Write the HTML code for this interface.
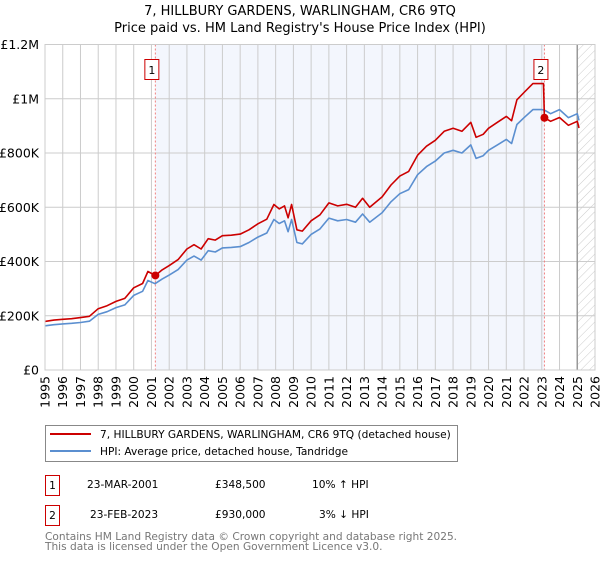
<!DOCTYPE html>
<html><head><meta charset="utf-8"><style>
body{margin:0;background:#fff;font-family:"DejaVu Sans","Liberation Sans",sans-serif;}
svg text{font-family:"DejaVu Sans","Liberation Sans",sans-serif;}
</style></head><body>
<svg id="c" width="600" height="560" xmlns="http://www.w3.org/2000/svg">
<defs><pattern id="hatch" width="6" height="6" patternUnits="userSpaceOnUse" patternTransform="rotate(45)"><line x1="0" y1="0" x2="0" y2="6" stroke="#ccc" stroke-width="1"/></pattern></defs>
<text x="300" y="15" text-anchor="middle" font-size="13" fill="#000">7, HILLBURY GARDENS, WARLINGHAM, CR6 9TQ</text>
<text x="300" y="32" text-anchor="middle" font-size="13" fill="#000">Price paid vs. HM Land Registry's House Price Index (HPI)</text>
<g id="plot"></g>
<g>
<rect x="45.5" y="425.5" width="412" height="36" fill="#fff" stroke="#888"/>
<line x1="50" y1="434" x2="91" y2="434" stroke="#cc0000" stroke-width="2"/>
<text x="100" y="438" font-size="10.6">7, HILLBURY GARDENS, WARLINGHAM, CR6 9TQ (detached house)</text>
<line x1="50" y1="451" x2="91" y2="451" stroke="#5b8fd0" stroke-width="2"/>
<text x="100" y="455" font-size="10.6">HPI: Average price, detached house, Tandridge</text>
</g>
<g font-size="10.6">
<rect x="45.5" y="475.5" width="14" height="20" fill="#fff" stroke="#cc0000"/><text x="52.5" y="489" text-anchor="middle">1</text>
<text x="87" y="488">23-MAR-2001</text><text x="215" y="488">£348,500</text><text x="312" y="488">10% ↑ HPI</text>
<rect x="45.5" y="505.5" width="14" height="20" fill="#fff" stroke="#cc0000"/><text x="52.5" y="519" text-anchor="middle">2</text>
<text x="90" y="518">23-FEB-2023</text><text x="215" y="518">£930,000</text><text x="319" y="518">3% ↓ HPI</text>
</g>
<text x="45" y="540" font-size="10.6" fill="#777">Contains HM Land Registry data © Crown copyright and database right 2025.</text>
<text x="45" y="550" font-size="10.6" fill="#777">This data is licensed under the Open Government Licence v3.0.</text>
</svg>
<script>
const hpiYears=[1995,1995.5,1996,1996.5,1997,1997.5,1998,1998.5,1999,1999.5,2000,2000.5,2000.8,2001.2,2001.6,2002,2002.5,2003,2003.4,2003.8,2004.2,2004.6,2005,2005.5,2006,2006.5,2007,2007.5,2007.9,2008.2,2008.5,2008.7,2008.9,2009.2,2009.5,2010,2010.5,2011,2011.5,2012,2012.5,2012.9,2013.3,2014,2014.5,2015,2015.5,2016,2016.5,2017,2017.5,2018,2018.5,2019,2019.3,2019.7,2020,2020.5,2021,2021.3,2021.6,2022,2022.5,2023,2023.15,2023.5,2024,2024.5,2025,2025.1];
const hpiValues=[163,167,170,172,175,180,205,215,230,240,275,290,330,318,335,350,370,405,420,405,440,435,450,452,455,470,490,505,555,540,550,510,555,470,465,500,520,560,550,555,545,575,545,580,620,650,665,720,750,770,800,810,800,830,780,790,810,830,850,835,905,930,960,960,958,945,960,930,945,920];
const propYears=[1995,1995.5,1996,1996.5,1997,1997.5,1998,1998.5,1999,1999.5,2000,2000.5,2000.8,2001.22,2001.6,2002,2002.5,2003,2003.4,2003.8,2004.2,2004.6,2005,2005.5,2006,2006.5,2007,2007.5,2007.9,2008.2,2008.5,2008.7,2008.9,2009.2,2009.5,2010,2010.5,2011,2011.5,2012,2012.5,2012.9,2013.3,2014,2014.5,2015,2015.5,2016,2016.5,2017,2017.5,2018,2018.5,2019,2019.3,2019.7,2020,2020.5,2021,2021.3,2021.6,2022,2022.5,2023,2023.1,2023.15,2023.5,2024,2024.5,2025,2025.1];
const propValues=[179,184,187,189,193,198,226,237,253,264,303,319,363,348.5,369,385,407,446,462,446,484,479,495,497,501,517,539,556,610,594,605,561,610,517,512,550,572,616,605,611,600,633,600,638,682,715,732,792,825,847,880,891,880,913,858,869,891,913,935,919,996,1023,1056,1056,1056,930,917,931,902,917,892];
const saleYears=[2001.22,2023.15];
const saleValues=[348.5,930];
const saleLabels=["1","2"];
const yTicks=[0,200,400,600,800,1000,1200];
const yTickLabels=["£0","£200K","£400K","£600K","£800K","£1M","£1.2M"];
const xTicks=[1995,1996,1997,1998,1999,2000,2001,2002,2003,2004,2005,2006,2007,2008,2009,2010,2011,2012,2013,2014,2015,2016,2017,2018,2019,2020,2021,2022,2023,2024,2025,2026];

const X0=45,X1=595,Y0=370,Y1=44.5;
const xs=v=>X0+(v-1995)/(2026-1995)*(X1-X0);
const ys=v=>Y0-v/1200*(Y0-Y1);
const NS="http://www.w3.org/2000/svg";
const g=document.getElementById('plot');
function mk(t,a){const e=document.createElementNS(NS,t);for(const k in a)e.setAttribute(k,a[k]);g.appendChild(e);return e;}

let bg=mk('rect',{x:X0,y:Y1,width:X1-X0,height:Y0-Y1,fill:'#fff'});


let sh=mk('rect',{x:xs(saleYears[0]),y:Y1,width:xs(saleYears[1])-xs(saleYears[0]),height:Y0-Y1,fill:'#f3f6fd'});


let ht=mk('rect',{x:xs(2025),y:Y1,width:X1-xs(2025),height:Y0-Y1,fill:'url(#hatch)'});


xTicks.forEach(t=>{
 const x=xs(t);
 let l=mk('line',{x1:x,y1:Y1,x2:x,y2:Y0,stroke:'#ccc','stroke-width':1});
 
 
 let tx=mk('text',{x:0,y:0,transform:`translate(${x+4.5},${Y0+6}) rotate(-90)`,'text-anchor':'end','font-size':'12.5',fill:'#000'});
 tx.textContent=t;
 
 
});
yTicks.forEach((t,i)=>{
 const y=ys(t);
 let l=mk('line',{x1:X0,y1:y,x2:X1,y2:y,stroke:'#ccc','stroke-width':1});
 
 
 let tx=mk('text',{x:X0-6,y:y+4.5,'text-anchor':'end','font-size':'12.5',fill:'#000'});
 tx.textContent=yTickLabels[i];
 
 
});
let nl=mk('line',{x1:xs(2025),y1:Y1,x2:xs(2025),y2:Y0,stroke:'#999','stroke-width':1.5});


saleYears.forEach((s,i)=>{
 const x=xs(s);
 let l=mk('line',{x1:x,y1:Y1,x2:x,y2:Y0,stroke:'#f08080','stroke-width':1,'stroke-dasharray':'2,2'});
 
 
 let r=mk('rect',{x:x-10.5,y:59.5,width:14,height:20,fill:'#fff',stroke:'#cc0000'});
 
 
 let t=mk('text',{x:x-3.5,y:74,'text-anchor':'middle','font-size':'11'});
 t.textContent=saleLabels[i];
 
 
});
function path(yr,vals){return yr.map((y,i)=>(i?'L':'M')+xs(y).toFixed(1)+','+ys(vals[i]).toFixed(1)).join('');}
let hp=mk('path',{d:path(hpiYears,hpiValues),fill:'none',stroke:'#5b8fd0','stroke-width':1.6,'stroke-linejoin':'round'});


let pp=mk('path',{d:path(propYears,propValues),fill:'none',stroke:'#cc0000','stroke-width':1.6,'stroke-linejoin':'round'});


saleYears.forEach((s,i)=>{
 let c=mk('circle',{cx:xs(s),cy:ys(saleValues[i]),r:4,fill:'#cc0000'});
 
 
});
let fr=mk('rect',{x:X0,y:Y1,width:X1-X0,height:Y0-Y1,fill:'none',stroke:'#ccc'});


</script>
</body></html>
